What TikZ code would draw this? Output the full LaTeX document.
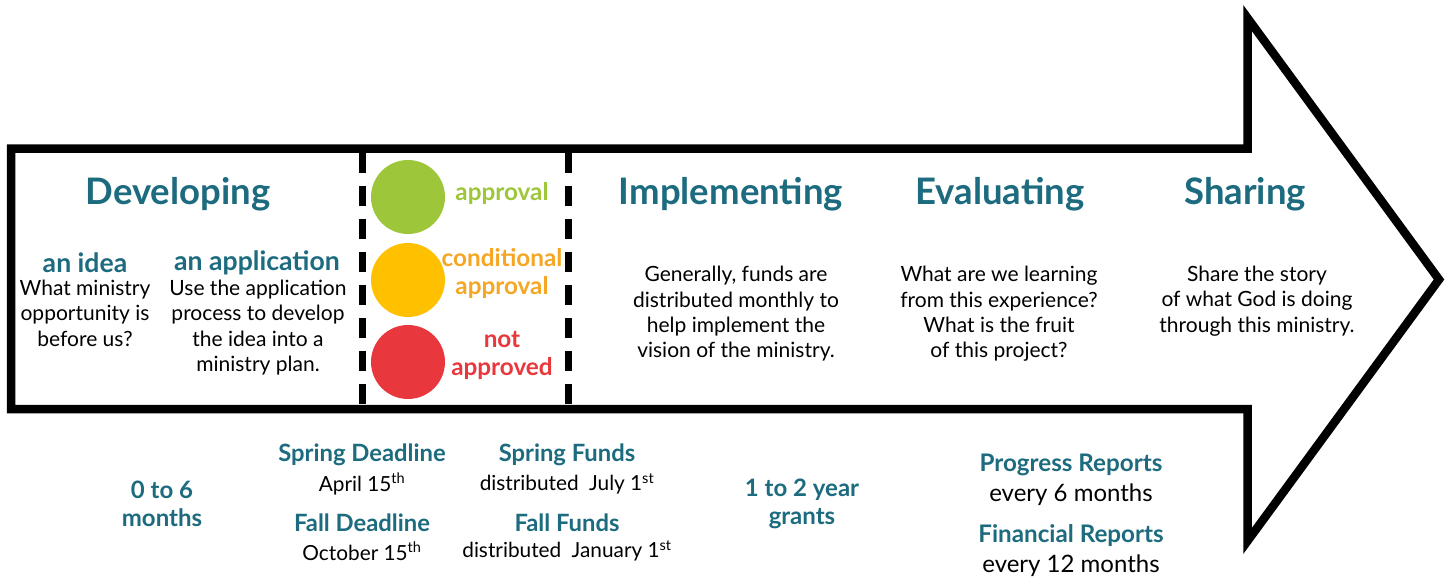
\documentclass[tikz,border=0pt]{standalone}
\usepackage{fontspec}
\setmainfont{Lato}
\definecolor{teal}{HTML}{1D6B7F}
\definecolor{okgreen}{HTML}{9DC63B}
\definecolor{condyel}{HTML}{FFC000}
\definecolor{condtxt}{HTML}{F5A623}
\definecolor{nored}{HTML}{E9383D}
\begin{document}
\begin{tikzpicture}[x=1pt,y=-1pt,
  head/.style={font=\fontsize{36.5}{40}\selectfont\bfseries, text=teal, inner sep=0pt},
  sub/.style={font=\fontsize{26.6}{28}\selectfont\bfseries, text=teal, inner sep=0pt},
  body/.style={font=\fontsize{21}{25.3}\selectfont, align=center, inner sep=0pt},
  stat/.style={font=\fontsize{24}{27.5}\selectfont\bfseries, align=center, inner sep=0pt},
  lowhead/.style={font=\fontsize{23.8}{27}\selectfont\bfseries, text=teal, inner sep=0pt},
  lowtxt/.style={font=\fontsize{20.8}{24}\selectfont, inner sep=0pt},
  rephead/.style={font=\fontsize{24.2}{27}\selectfont\bfseries, text=teal, inner sep=0pt},
  rep/.style={font=\fontsize{24}{27}\selectfont, inner sep=0pt},
  light/.style={circle, minimum size=74pt, inner sep=0pt},
  verdict/.style={font=\fontsize{24.3}{28}\selectfont\bfseries, align=center, inner sep=0pt},
  sep/.style={line width=7pt, dash pattern=on 20pt off 13pt}]
\useasboundingbox (0,0) rectangle (1455,581);
\fill[white] (0,0) rectangle (1455,581);
% arrow outline
\draw[line width=8.5pt, line join=miter]
  (11,148.5) -- (1247.5,148.5) -- (1247.5,18) -- (1439,279.5) -- (1247.5,541)
  -- (1247.5,409) -- (11,409) -- cycle;
% dashed separators
\coordinate (s1t) at (362.5,153);
\coordinate (s1b) at (362.5,405);
\coordinate (s2t) at (568,153);
\coordinate (s2b) at (568,405);
\draw[sep] (s1t) -- (s1b);
\draw[sep] (s2t) -- (s2b);
% traffic lights
\node[light, fill=okgreen] (g) at (408,197) {};
\node[light, fill=condyel] (y) at (408,280) {};
\node[light, fill=nored] (r) at (408,362) {};
\node[verdict, text=okgreen] (gt) at (502,194) {approval};
\node[verdict, text=condtxt] (yt) at (502,273) {conditional\\approval};
\node[verdict, text=nored] (rt) at (502,355) {not\\approved};
% headings
\node[head] (dev) at (178,194) {Developing};
\node[head] (imp) at (731,194) {Implementing};
\node[head] (eva) at (1000,194) {Evaluating};
\node[head] (sha) at (1245,194) {Sharing};
% developing sub
\node[sub] (idea) at (85,263) {an idea};
\node[sub] (app) at (257,263) {an application};
\node[body, anchor=north] (ideat) at (85,280) {What ministry\\opportunity is\\before us?};
\node[body, anchor=north] (appt) at (258,280) {Use the application\\process to develop\\the idea into a\\ministry plan.};
% other bodies
\node[body] (impt) at (736,314) {Generally, funds are\\distributed monthly to\\help implement the\\vision of the ministry.};
\node[body] (evat) at (999,314) {What are we learning\\from this experience?\\What is the fruit\\of this project?};
\node[body] (shat) at (1257,301) {Share the story\\of what God is doing\\through this ministry.};
% bottom row
\node[stat, text=teal] (m06) at (162,504) {0 to 6\\months};
\node[lowhead] (sd) at (362,455) {Spring Deadline};
\node[lowtxt] (sdd) at (362,484) {April 15\textsuperscript{th}};
\node[lowhead] (fd) at (362,523) {Fall Deadline};
\node[lowtxt] (fdd) at (362,551) {October 15\textsuperscript{th}};
\node[lowhead] (sf) at (567,455) {Spring Funds};
\node[lowtxt] (sfd) at (567,484) {distributed\enspace July 1\textsuperscript{st}};
\node[lowhead] (ff) at (567,523) {Fall Funds};
\node[lowtxt] (ffd) at (567,551) {distributed\enspace January 1\textsuperscript{st}};
\node[stat, text=teal] (y12) at (802,504) {1 to 2 year\\grants};
\node[rephead] (pr) at (1071,465) {Progress Reports};
\node[rep] (prd) at (1071,495) {every 6 months};
\node[rephead] (fr) at (1071,536) {Financial Reports};
\node[rep] (frd) at (1071,566) {every 12 months};
\end{tikzpicture}
\end{document}
